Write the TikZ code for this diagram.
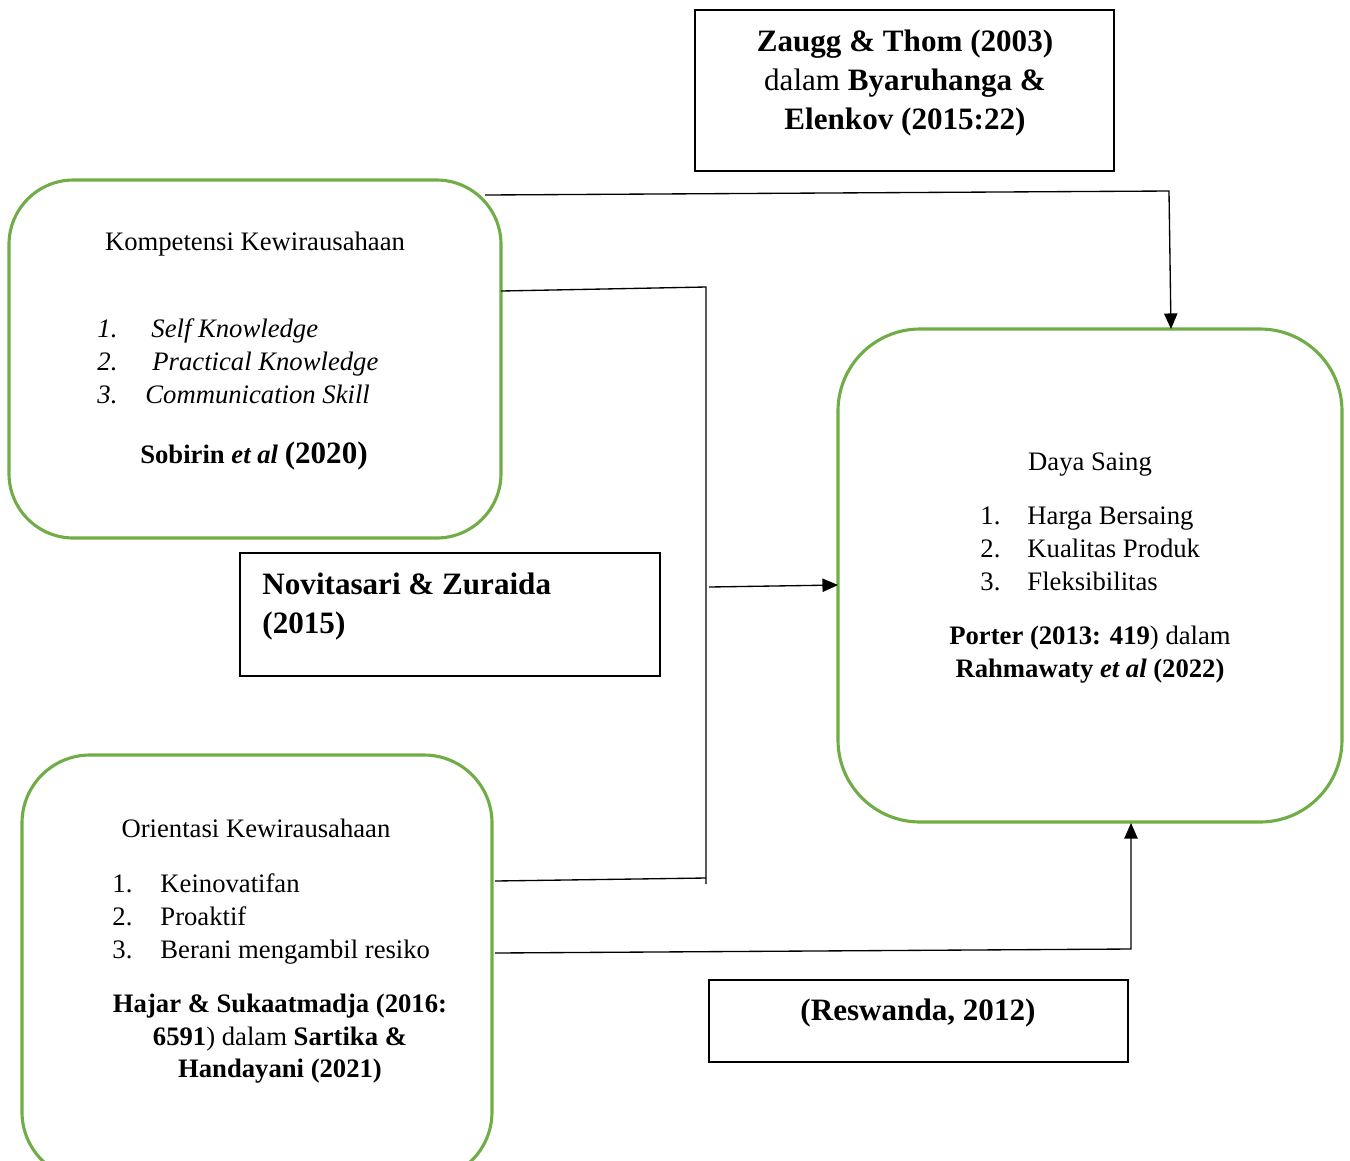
\documentclass[tikz,border=0pt]{standalone}
\usepackage{fontspec}
\setmainfont{Liberation Serif}
\usetikzlibrary{arrows.meta}
\definecolor{boxgreen}{HTML}{70AD47}
\begin{document}
\begin{tikzpicture}[x=0.45pt,y=-0.45pt,
 greenbox/.style={draw=boxgreen, line width=1.4pt, rounded corners=#1, inner sep=0pt, outer sep=0pt},
 greenbox/.default=30pt,
 blackbox/.style={draw=black, line width=0.9pt, inner sep=0pt, outer sep=0pt},
 txt/.style={inner sep=0pt, anchor=base, font=\fontsize{12}{14}\selectfont},
 txtl/.style={txt, anchor=base west},
 bigtxt/.style={inner sep=0pt, anchor=base, font=\fontsize{14}{16}\selectfont},
 bigtxtl/.style={bigtxt, anchor=base west},
 conn/.style={draw=black, line width=0.6pt},
 arr/.style={conn, -{Triangle[length=7pt,width=6pt]}}
]
\useasboundingbox (0,0) rectangle (1350,1160);
\clip (0,0) rectangle (1350,1160);

% boxes
\node[greenbox=29pt, minimum width=221.4pt, minimum height=161.1pt] (K) at (255,359) {};
\node[greenbox=30.6pt, minimum width=211.5pt, minimum height=191.25pt] (O) at (257,967.5) {};
\node[greenbox=36.9pt, minimum width=226.8pt, minimum height=221.85pt] (D) at (1090,575.5) {};
\node[blackbox, minimum width=188.55pt, minimum height=72.45pt] (Z) at (904.5,90.5) {};
\node[blackbox, minimum width=189pt, minimum height=55.35pt] (N) at (450,614.5) {};
\node[blackbox, minimum width=188.55pt, minimum height=36.9pt] (R) at (918.5,1021) {};

% Kompetensi text
\node[txt] (kt) at (255,250) {Kompetensi Kewirausahaan};
\node[txtl] (k1n) at (97,337) {\itshape 1.};
\node[txtl] (k1t) at (151,337) {\itshape Self Knowledge};
\node[txtl] (k2n) at (97,370) {\itshape 2.};
\node[txtl] (k2t) at (152,370) {\itshape Practical Knowledge};
\node[txtl] (k3n) at (97,403) {\itshape 3.};
\node[txtl] (k3t) at (145,403) {\itshape Communication Skill};
\node[txt] (kc) at (254,463) {\bfseries Sobirin \textit{et al} {\fontsize{14}{16}\selectfont (2020)}};

% Orientasi text
\node[txt] (ot) at (256,837) {Orientasi Kewirausahaan};
\node[txtl] (o1n) at (112,892) {1.};
\node[txtl] (o1t) at (160,892) {Keinovatifan};
\node[txtl] (o2n) at (112,925) {2.};
\node[txtl] (o2t) at (160,925) {Proaktif};
\node[txtl] (o3n) at (112,958) {3.};
\node[txtl] (o3t) at (160,958) {Berani mengambil resiko};
\node[txt] (oc1) at (280,1012) {\textbf{Hajar \& Sukaatmadja (2016:}};
\node[txt] (oc2) at (280,1045) {\textbf{6591}) dalam \textbf{Sartika \&}};
\node[txt] (oc3) at (280,1077) {\textbf{Handayani (2021)}};

% Daya Saing text
\node[txt] (dt) at (1090,470) {Daya Saing};
\node[txtl] (d1n) at (980,524) {1.};
\node[txtl] (d1t) at (1027,524) {Harga Bersaing};
\node[txtl] (d2n) at (980,557) {2.};
\node[txtl] (d2t) at (1027,557) {Kualitas Produk};
\node[txtl] (d3n) at (980,590) {3.};
\node[txtl] (d3t) at (1027,590) {Fleksibilitas};
\node[txt] (dc1) at (1090,644) {\textbf{Porter (2013: 419}) dalam};
\node[txt] (dc2) at (1090,677) {\textbf{Rahmawaty \textit{et al} (2022)}};

% Zaugg text
\node[bigtxt] (z1) at (905,51) {\bfseries Zaugg \& Thom (2003)};
\node[bigtxt] (z2) at (905,90) {dalam \textbf{Byaruhanga \&}};
\node[bigtxt] (z3) at (905,129) {\bfseries Elenkov (2015:22)};

% Novitasari text
\node[bigtxtl] (n1) at (262,594) {\bfseries Novitasari \& Zuraida};
\node[bigtxtl] (n2) at (262,633) {\bfseries (2015)};

% Reswanda text
\node[bigtxt] (r1) at (918,1020) {\bfseries (Reswanda, 2012)};

% connector points
\coordinate (kTop) at (485,195);
\coordinate (bendTop) at (1169,191);
\coordinate (dTop) at (1171,329);
\coordinate (kRight) at (501,291);
\coordinate (jTop) at (706,287);
\coordinate (jBot) at (706,884);
\coordinate (oRight1) at (495,881);
\coordinate (jMid) at (706,878);
\coordinate (aStart) at (709,587);
\coordinate (dLeft) at (838,585);
\coordinate (oRight2) at (495,953);
\coordinate (bendBot) at (1131,949);
\coordinate (dBot) at (1131,823);

% connectors
\draw[arr] (kTop) -- (bendTop) -- (dTop);
\draw[conn] (kRight) -- (jTop) -- (jBot);
\draw[conn] (oRight1) -- (jMid);
\draw[arr] (aStart) -- (dLeft);
\draw[arr] (oRight2) -- (bendBot) -- (dBot);
\end{tikzpicture}
\end{document}
